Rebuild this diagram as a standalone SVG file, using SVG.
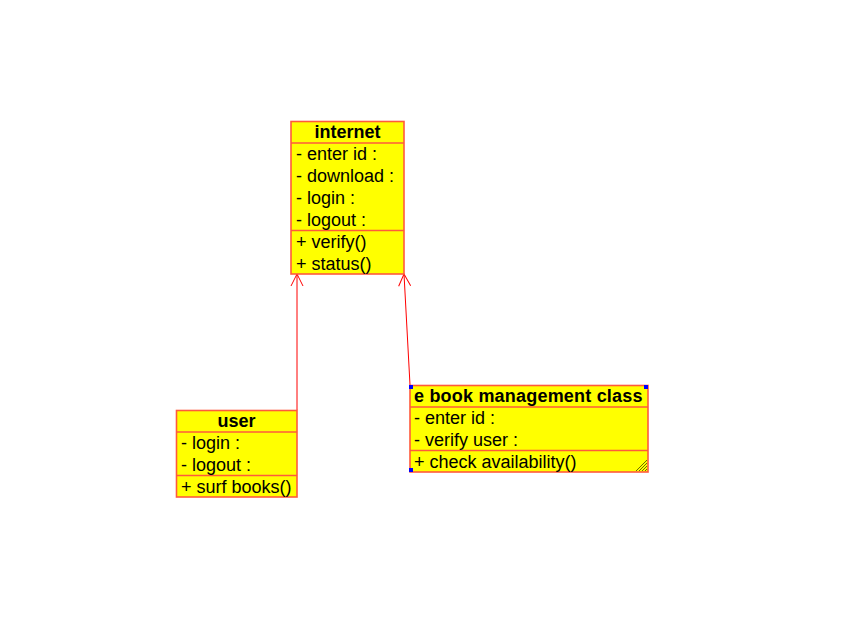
<svg xmlns="http://www.w3.org/2000/svg" width="847" height="625" viewBox="0 0 847 625">
  <style>
    .box { fill: #ffff00; stroke: #ff5a3c; stroke-width: 1.6; }
    .div { stroke: #ff5a3c; stroke-width: 1.6; }
    .name { font-family: "Liberation Sans", Arial, sans-serif; font-size: 18px; font-weight: bold; fill: #000; text-anchor: middle; }
    .name-left { font-family: "Liberation Sans", Arial, sans-serif; font-size: 18px; font-weight: bold; fill: #000; text-anchor: start; letter-spacing: 0.2px; }
    .item { font-family: "Liberation Sans", Arial, sans-serif; font-size: 18px; fill: #000; }
    .edge { stroke: #ff0000; stroke-width: 1; fill: none; }
    .handle { fill: #0000ff; }
    .grip { stroke: #6b6b00; stroke-width: 1; }
  </style>
  <defs>
    <marker id="open" markerWidth="14" markerHeight="14" refX="13" refY="7" orient="auto" markerUnits="userSpaceOnUse">
      <path d="M1,1 L13,7 L1,13" fill="none" stroke="#ff0000" stroke-width="1"/>
    </marker>
  </defs>
  <rect width="847" height="625" fill="#ffffff"/>

  <g id="connectors">
    <line class="edge" x1="297" y1="410" x2="297" y2="274" marker-end="url(#open)"/>
    <line class="edge" x1="410" y1="385" x2="404" y2="274" marker-end="url(#open)"/>
  </g>

  <g id="internet">
    <rect class="box" x="291" y="121.5" width="113" height="152.5"/>
    <line class="div" x1="291" y1="143" x2="404" y2="143"/>
    <line class="div" x1="291" y1="230.5" x2="404" y2="230.5"/>
    <text class="name" x="347.5" y="138">internet</text>
    <text class="item" x="296" y="160">- enter id :</text>
    <text class="item" x="296" y="182">- download :</text>
    <text class="item" x="296" y="204">- login :</text>
    <text class="item" x="296" y="226">- logout :</text>
    <text class="item" x="296" y="248">+ verify()</text>
    <text class="item" x="296" y="270">+ status()</text>
  </g>

  <g id="user">
    <rect class="box" x="176.5" y="410.5" width="120.5" height="86.5"/>
    <line class="div" x1="176.5" y1="432" x2="297" y2="432"/>
    <line class="div" x1="176.5" y1="475.5" x2="297" y2="475.5"/>
    <text class="name" x="236.5" y="427">user</text>
    <text class="item" x="181" y="449">- login :</text>
    <text class="item" x="181" y="471">- logout :</text>
    <text class="item" x="181" y="493">+ surf books()</text>
  </g>

  <g id="ebook">
    <rect class="box" x="410" y="385.5" width="238" height="86.5"/>
    <line class="div" x1="410" y1="407" x2="648" y2="407"/>
    <line class="div" x1="410" y1="450.5" x2="648" y2="450.5"/>
    <text class="name-left" x="414" y="402">e book management class</text>
    <text class="item" x="414" y="424">- enter id :</text>
    <text class="item" x="414" y="446">- verify user :</text>
    <text class="item" x="414" y="468">+ check availability()</text>
    <rect class="handle" x="409" y="385" width="4" height="4"/>
    <rect class="handle" x="644" y="385" width="4" height="4"/>
    <rect class="handle" x="409" y="468" width="4" height="4"/>
    <g class="grip">
      <line x1="636" y1="471" x2="647" y2="460"/>
      <line x1="639" y1="471" x2="647" y2="463"/>
      <line x1="642" y1="471" x2="647" y2="466"/>
      <line x1="645" y1="471" x2="647" y2="469"/>
    </g>
  </g>
</svg>
